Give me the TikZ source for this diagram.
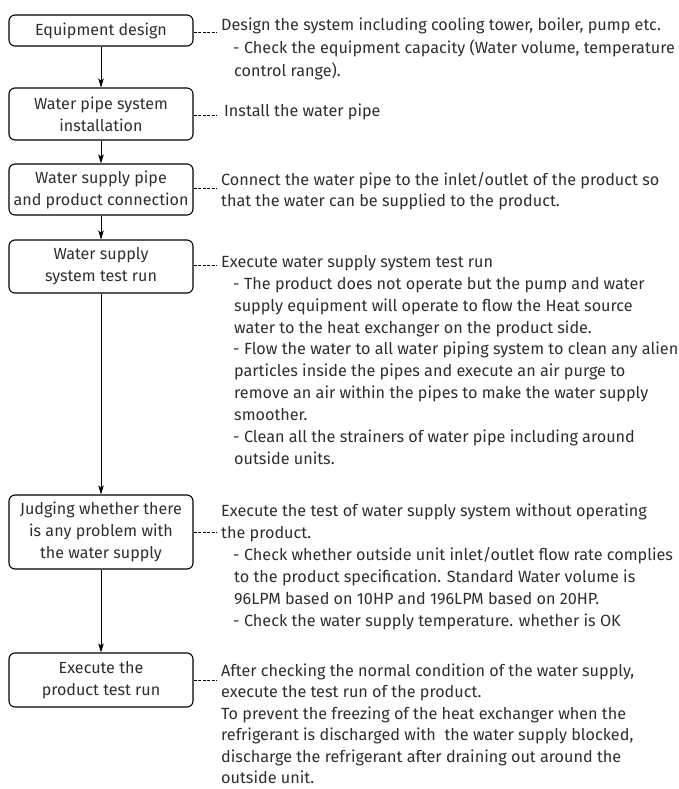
\documentclass[tikz,border=0pt]{standalone}
\usepackage{fontspec}
\setmainfont{Fira Sans}
\usetikzlibrary{arrows.meta}
\newcommand{\mybodyfont}{\fontsize{16.2}{21.9}\selectfont}
\newcommand{\myboxfont}{\fontsize{16.1}{22}\selectfont}
\newcommand{\hd}[1]{\multicolumn{1}{@{}l@{}}{#1}}
\newenvironment{desclines}{\begin{tabular}[t]{@{\hspace*{12pt}}l@{}}}{\end{tabular}}
\begin{document}
\begin{tikzpicture}[x=1pt,y=-1pt,
  stepbox/.style={draw, line width=1.1pt, rounded corners=6pt, minimum width=184pt,
    align=center, inner sep=0pt, font=\myboxfont, text=black!82},
  desc/.style={anchor=base west, inner sep=0pt, font=\mybodyfont, text=black!82},
  flow/.style={line width=0.9pt, -{Stealth[length=9pt,width=5.5pt,inset=2pt]}},
  lead/.style={line width=0.7pt, dash pattern=on 3.2pt off 1.3pt}]
\useasboundingbox (0,0) rectangle (679,789);
\node[stepbox, minimum height=31pt] (b1) at (101,30.5) {Equipment design};
\node[stepbox, minimum height=52pt] (b2) at (101,114) {Water pipe system\\installation};
\node[stepbox, minimum height=51pt] (b3) at (101,189.5) {Water supply pipe\\and product connection};
\node[stepbox, minimum height=53pt] (b4) at (101,266.5) {Water supply\\system test run};
\node[stepbox, minimum height=74pt] (b5) at (101,532) {Judging whether there\\is any problem with\\the water supply};
\node[stepbox, minimum height=54pt] (b6) at (101,680) {Execute the\\product test run};
\draw[flow] (b1) -- (b2);
\draw[flow] (b2) -- (b3);
\draw[flow] (b3) -- (b4);
\draw[flow] (b4) -- (b5);
\draw[flow] (b5) -- (b6);
\node[desc, font=\fontsize{16.2}{22.8}\selectfont] (t1) at (221,30.5) {\begin{desclines}
\hd{Design the system including cooling tower, boiler, pump etc.}\\
- Check the equipment capacity (Water volume, temperature\\
\hspace{1pt}control range).\end{desclines}};
\node[desc] (t2) at (224,117) {Install the water pipe};
\node[desc] (t3) at (221,185) {\begin{desclines}
\hd{Connect the water pipe to the inlet/outlet of the product so}\\
\hd{that the water can be supplied to the product.}\end{desclines}};
\node[desc] (t4) at (221,267.3) {\begin{desclines}
\hd{Execute water supply system test run}\\
- The product does not operate but the pump and water\\
\hspace{1pt}supply equipment will operate to flow the Heat source\\
\hspace{1pt}water to the heat exchanger on the product side.\\
- Flow the water to all water piping system to clean any alien\\
\hspace{1pt}particles inside the pipes and execute an air purge to\\
\hspace{1pt}remove an air within the pipes to make the water supply\\
\hspace{1pt}smoother.\\
- Clean all the strainers of water pipe including around\\
\hspace{1pt}outside units.\end{desclines}};
\node[desc] (t5) at (221,516.7) {\begin{desclines}
\hd{Execute the test of water supply system without operating}\\
\hd{the product.}\\
- Check whether outside unit inlet/outlet flow rate complies\\
\hspace{1pt}to the product specification. Standard Water volume is\\
\hspace{1pt}96LPM based on 10HP and 196LPM based on 20HP.\\
- Check the water supply temperature. whether is OK\end{desclines}};
\node[desc, font=\fontsize{16.2}{21.5}\selectfont] (t6) at (221,676) {\begin{desclines}
\hd{After checking the normal condition of the water supply,}\\
\hd{execute the test run of the product.}\\
\hd{To prevent the freezing of the heat exchanger when the}\\
\hd{refrigerant is discharged with\ \ the water supply blocked,}\\
\hd{discharge the refrigerant after draining out around the}\\
\hd{outside unit.}\end{desclines}};
\coordinate (e1) at (217,32);
\coordinate (e2) at (217,115.5);
\coordinate (e3) at (217,188);
\coordinate (e4) at (217,265);
\coordinate (e5) at (217,532);
\coordinate (e6) at (217,680);
\draw[lead] (b1.east |- e1) -- (e1);
\draw[lead] (b2.east |- e2) -- (e2);
\draw[lead] (b3.east |- e3) -- (e3);
\draw[lead] (b4.east |- e4) -- (e4);
\draw[lead] (b5.east |- e5) -- (e5);
\draw[lead] (b6.east |- e6) -- (e6);
\end{tikzpicture}
\end{document}
